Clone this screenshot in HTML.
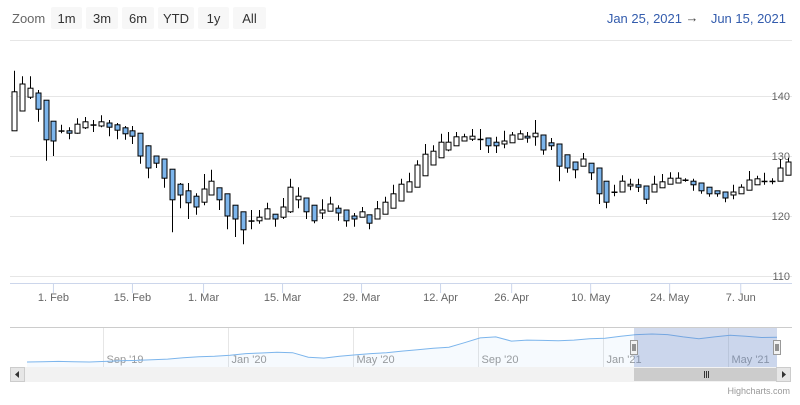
<!DOCTYPE html>
<html><head><meta charset="utf-8"><style>
body{margin:0;background:#fff;font-family:"Liberation Sans",sans-serif}
svg text{font-family:"Liberation Sans",sans-serif}
</style></head><body>
<svg id="c" width="800" height="400" viewBox="0 0 800 400">
<rect width="800" height="400" fill="#fff"/>
<text x="12" y="23" font-size="13" fill="#666">Zoom</text>
<g font-size="13" fill="#333" text-anchor="middle">
<g><rect x="51" y="7" width="31" height="22" rx="2" fill="#f7f7f7"/><text x="66.5" y="23">1m</text></g>
<g><rect x="86" y="7" width="32" height="22" rx="2" fill="#f7f7f7"/><text x="102" y="23">3m</text></g>
<g><rect x="122" y="7" width="32" height="22" rx="2" fill="#f7f7f7"/><text x="138" y="23">6m</text></g>
<g><rect x="158" y="7" width="36" height="22" rx="2" fill="#f7f7f7"/><text x="176" y="23">YTD</text></g>
<g><rect x="198" y="7" width="31" height="22" rx="2" fill="#f7f7f7"/><text x="213.5" y="23">1y</text></g>
<g><rect x="233" y="7" width="33" height="22" rx="2" fill="#f7f7f7"/><text x="249.5" y="23">All</text></g>
</g>
<g font-size="13" fill="#335cad">
<text x="682" y="23" text-anchor="end">Jan 25, 2021</text>
<text x="692" y="22" text-anchor="middle" fill="#444">→</text>
<text x="786" y="23" text-anchor="end">Jun 15, 2021</text>
</g>
<line x1="10" y1="40.5" x2="792" y2="40.5" stroke="#e6e6e6"/>
<g id="grid"></g><g id="candles"></g><g id="xaxis"></g>
<line x1="10" y1="283.5" x2="792" y2="283.5" stroke="#ccd6eb"/>
<g id="nav"></g>
<text x="790" y="394" font-size="9" fill="#999" text-anchor="end">Highcharts.com</text>
</svg>
<script>
const opens=[134.2,137.5,139.8,140.5,139.3,135.8,134.2,134.2,133.8,134.7,135.2,135,135.5,135.2,134.7,134.2,133.8,131.7,130,129.5,127.8,125.3,124.2,123.3,122.3,123.5,124.7,123.7,121.8,120.7,119.2,119.2,119.5,120.3,119.8,120.7,122.7,123,121.8,120.5,120.8,121.3,121,120,119.8,120.2,119.5,120.3,121.3,122.5,124,124.8,126.7,128.5,129.7,131,131.7,132.5,132.8,132.8,133,132.3,132,132.2,132.8,133.3,133.2,133.5,132.2,132,130.2,129,128.3,128.8,128,125.8,124,124,125,125.2,125,124,124.7,125.3,125.5,126,125.8,125.5,124.8,124.2,124,123.5,123.7,124.3,125.2,125.8,125.8,125.8,126.8];
const highs=[144.2,143.3,143.3,141,139.3,135.8,135.2,134.8,136.3,136.5,136,136.8,136,135.5,135,135,133.8,131.8,130,129.5,127.8,125.5,125.5,123.8,127,127.7,124.7,123.7,121.8,120.7,121,121,122.2,120.3,123,126.2,124.8,123,121.8,122.8,123.2,121.8,121,120.5,121.5,120.2,122.5,123.2,125.2,126.2,127.2,129.3,132,131.8,133.7,134,134,133.7,134.5,134.5,133,133.2,134.2,134,134.3,134,136,133.5,133,132,130.2,129,130.5,128.8,128,125.8,125.2,126.8,126.2,126.2,125,126.7,127,127.3,127.3,126.3,126.2,125.5,124.8,124.2,124,125.2,125.3,127.5,126.7,127.2,126.3,129.5,129.7];
const lows=[134.2,137.5,139.5,135.7,129.2,130,133.8,132.8,133.7,134.5,134,134.8,133.3,132.8,132.7,132,128.7,126.3,128,124.7,117.3,121.3,119.5,120.2,121.8,123.5,121,117.8,116.5,115.3,117.8,118.7,119.5,118.2,119.5,120.5,121.3,119.5,118.8,119.5,120.8,119.2,118.2,118.2,119.8,117.8,119.5,120.3,121.3,122.5,124,124.8,126.7,128.5,129.7,130.8,131.7,132.5,132.5,131,130.5,130.5,131.3,132.2,132.8,132.2,131.7,130.2,131,125.8,127.2,126.3,128.3,126,122,121.3,123.3,124,124.3,124,122,124,124.7,125.3,125.5,125.7,124.2,123.7,123.2,123.2,122.3,122.8,123.7,124.3,125.2,125.2,125.3,125.8,126.8];
const closes=[140.7,142,141.3,137.8,132.7,132.5,134.2,133.8,135.3,135.7,135.2,135.7,134.8,134.3,133.7,133.3,130,128,128.8,126.3,122.7,123.5,122.2,121.5,124.5,125.8,122.7,120,119.5,117.7,119.2,119.8,121.2,119.5,121.5,124.8,123.3,120.7,119.2,121,122,120.5,119.2,119.5,120.7,118.8,121.2,122.3,123.7,125.3,125.7,128.5,130.3,130.8,132.3,132.3,133.2,133.2,133.3,132.8,131.7,131.7,132.5,133.5,133.7,133,133.8,131,131.7,128.3,128,127.7,129.5,127.2,123.7,122.3,124,125.8,125.3,124.8,122.8,125.3,125.7,126.3,126.3,126,125.2,124.2,123.7,123.7,123,124,124.8,126,126.2,125.8,125.8,128,129];
const yTicks=[110,120,130,140];
const xTickLabels=["1. Feb","15. Feb","1. Mar","15. Mar","29. Mar","12. Apr","26. Apr","10. May","24. May","7. Jun"];
const xTickIndex=[5,15,24,34,44,54,63,73,83,92];
const navValues=[50,51,52,51,50,52,54,55,57,59,63,66,68,71,76,78,80,79,65,62,68,72,76,79,84,88,93,96,110,125,128,115,118,117,116,118,122,124,130,135,137,135,128,122,128,133,130,126,127];
const navLabels=["Sep '19","Jan '20","May '20","Sep '20","Jan '21","May '21"];
const navLabelMonth=[2.5,6.5,10.5,14.5,18.5,22.5];

const NS="http://www.w3.org/2000/svg";
function mk(t,a,p){const e=document.createElementNS(NS,t);for(const k in a)e.setAttribute(k,a[k]);p.appendChild(e);return e;}
const x0=10,step=7.9;
const xs=i=>x0+(i+0.5)*step;
const ys=v=>96+(140-v)*6;
const grid=document.getElementById('grid');
yTicks.forEach(t=>{
 const l=mk('line',{x1:10,x2:792,y1:Math.round(ys(t))+.5,y2:Math.round(ys(t))+.5,stroke:'#e6e6e6'},grid);
 
 
 const tx=mk('text',{x:790,y:ys(t)+4,'font-size':11,fill:'#666','text-anchor':'end'},grid);
 tx.textContent=t;
 
 
});
const xa=document.getElementById('xaxis');
xTickLabels.forEach((s,k)=>{
 const x=xs(xTickIndex[k]);
 const tk=mk('line',{x1:x,x2:x,y1:283,y2:293,stroke:'#ccd6eb'},xa);
 
 
 const tx=mk('text',{x:x,y:301,'font-size':11,fill:'#666','text-anchor':'middle'},xa);
 tx.textContent=s;
 
 
});
const cg=document.getElementById('candles');
opens.forEach((o,i)=>{
 const c=closes[i],x=Math.round(xs(i))+.5;
 const g=mk('g',{},cg);
 
 
 mk('line',{x1:x,x2:x,y1:ys(highs[i]),y2:ys(lows[i]),stroke:'#000'},g);
 const top=ys(Math.max(o,c)),bot=ys(Math.min(o,c));
 mk('rect',{x:x-2.5,y:top,width:5,height:Math.max(bot-top,0.5),fill:c<o?'#7cb5ec':'#fff',stroke:'#000','stroke-width':1},g);
});
// navigator (half-month points)
const nav=document.getElementById('nav');
const nx=m=>27+m*750/(navValues.length-1), ny=v=>362-(v-50)*0.322;
const nb=mk('rect',{x:10,y:327,width:782,height:40,fill:'#fff'},nav);


const nbl=mk('line',{x1:10,x2:792,y1:327.5,y2:327.5,stroke:'#ccc'},nav);


navLabels.forEach((s,k)=>{
 const x=Math.round(27+navLabelMonth[k]*31.25-2)+.5;
 const l=mk('line',{x1:x,x2:x,y1:328,y2:367,stroke:'#e6e6e6'},nav);
 
 
 const t=mk('text',{x:x+3,y:363,'font-size':11,fill:'#999'},nav);
 t.textContent=s;
 
 
});
let d='';navValues.forEach((v,m)=>{d+=(m?'L':'M')+nx(m).toFixed(1)+' '+ny(v).toFixed(1);});
const na=mk('path',{d:d+`L${nx(navValues.length-1)} 367L27 367Z`,fill:'rgba(124,181,236,0.07)'},nav);


const nl=mk('path',{d:d,fill:'none',stroke:'#7cb5ec','stroke-width':1},nav);


const mask=mk('rect',{x:634,y:328,width:143,height:39,fill:'rgba(102,133,194,0.3)'},nav);


[634,777].forEach(hx=>{
 const h=mk('g',{},nav);
 
 
 mk('rect',{x:hx-3.5,y:340.5,width:7,height:14,fill:'#f2f2f2',stroke:'#999'},h);
 mk('line',{x1:hx-1,x2:hx-1,y1:344,y2:351,stroke:'#333'},h);
 mk('line',{x1:hx+1,x2:hx+1,y1:344,y2:351,stroke:'#333'},h);
});
const sb=mk('rect',{x:10.5,y:367.5,width:780,height:14,fill:'#f2f2f2',stroke:'#f2f2f2'},nav);


const th=mk('rect',{x:634,y:368,width:143,height:13,fill:'#ccc'},nav);


[704,706,708].forEach(x=>mk('line',{x1:x+.5,x2:x+.5,y1:371,y2:378,stroke:'#333'},nav));
const la=mk('g',{},nav);


mk('rect',{x:10.5,y:367.5,width:14,height:14,fill:'#e6e6e6',stroke:'#ccc'},la);
mk('path',{d:'M19 371L15 374.5L19 378Z',fill:'#333'},la);
const ra=mk('g',{},nav);


mk('rect',{x:776.5,y:367.5,width:14,height:14,fill:'#e6e6e6',stroke:'#ccc'},ra);
mk('path',{d:'M782 371L786 374.5L782 378Z',fill:'#333'},ra);
</script>
</body></html>
